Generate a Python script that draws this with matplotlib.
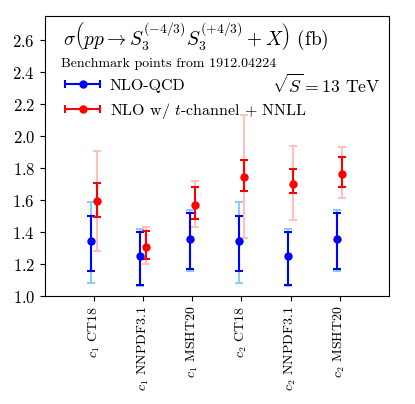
import matplotlib
matplotlib.use("Agg")
import matplotlib.pyplot as plt
import numpy as np
from matplotlib.container import ErrorbarContainer
from matplotlib.legend_handler import HandlerErrorbar

plt.rcParams['font.family'] = 'serif'
plt.rcParams['font.serif'] = ['cmr10']
plt.rcParams['mathtext.fontset'] = 'cm'
plt.rcParams['axes.formatter.use_mathtext'] = True

labels = [r"$c_1$ CT18", r"$c_1$ NNPDF3.1", r"$c_1$ MSHT20",
          r"$c_2$ CT18", r"$c_2$ NNPDF3.1", r"$c_2$ MSHT20"]

# NLO-QCD: central, scale band (dark), full band (light)
qcd_c = [1.345, 1.251, 1.36, 1.345, 1.251, 1.36]
qcd_hi = [1.502, 1.40, 1.52, 1.502, 1.40, 1.52]
qcd_lo = [1.159, 1.07, 1.17, 1.159, 1.07, 1.17]
qcd_hi2 = [1.586, 1.417, 1.538, 1.586, 1.417, 1.538]
qcd_lo2 = [1.082, 1.063, 1.157, 1.082, 1.063, 1.157]

# NLO w/ t-channel + NNLL
nnll_c = [1.594, 1.31, 1.571, 1.745, 1.703, 1.765]
nnll_hi = [1.705, 1.41, 1.682, 1.853, 1.793, 1.87]
nnll_lo = [1.496, 1.235, 1.479, 1.659, 1.644, 1.684]
nnll_hi2 = [1.91, 1.435, 1.72, 2.134, 1.941, 1.935]
nnll_lo2 = [1.28, 1.20, 1.433, 1.366, 1.477, 1.611]

x = np.arange(len(labels))
off = 0.055

fig = plt.figure(figsize=(4.15, 4.04), dpi=100)
ax = fig.add_axes([0.108, 0.267, 0.829, 0.693])

def band(c, lo, hi):
    c = np.array(c)
    return [c - np.array(lo), np.array(hi) - c]

kw = dict(elinewidth=1.5, capsize=3, capthick=1.5)
ax.errorbar(x - off, qcd_c, yerr=band(qcd_c, qcd_lo2, qcd_hi2), fmt='none',
            ecolor='lightskyblue', **kw)
ax.errorbar(x + off, nnll_c, yerr=band(nnll_c, nnll_lo2, nnll_hi2), fmt='none',
            ecolor='#ffc0c0', **kw)
ax.errorbar(x - off, qcd_c, yerr=band(qcd_c, qcd_lo, qcd_hi), fmt='o',
            color='blue', ms=5, **kw)
ax.errorbar(x + off, nnll_c, yerr=band(nnll_c, nnll_lo, nnll_hi), fmt='o',
            color='red', ms=5, **kw)

# legend proxies drawn with horizontal error bars
h1 = ax.errorbar([np.nan], [np.nan], xerr=[1], fmt='o', color='blue', ms=5,
                 label='NLO-QCD', **kw)
h2 = ax.errorbar([np.nan], [np.nan], xerr=[1], fmt='o', color='red', ms=5,
                 label=r'NLO w/ $t$-channel + NNLL', **kw)

ax.set_xlim(-1, 6)
ax.set_ylim(1.0, 2.75)
ax.set_yticks(np.arange(1.0, 2.61, 0.2))
ax.set_xticks(x)
ax.set_xticklabels(labels, rotation=90, fontsize=10)
ax.tick_params(axis='y', labelsize=12)

ax.text(0.052, 0.926, r"$\sigma\left(pp \to S_3^{(-4/3)}S_3^{(+4/3)} + X\right)$ (fb)",
        transform=ax.transAxes, fontsize=14, va='center', ha='left')
ax.text(0.977, 0.755, r"$\sqrt{S} = 13$ TeV", transform=ax.transAxes,
        fontsize=12.7, va='center', ha='right')
ax.text(0.048, 0.828, 'Benchmark points from 1912.04224', transform=ax.transAxes,
        fontsize=10, va='center', ha='left')
ax.legend(handles=[h1, h2], loc='upper left', bbox_to_anchor=(0.017, 0.828),
          frameon=False, fontsize=11.5, handlelength=2.2, handletextpad=0.6,
          labelspacing=0.5,
          handler_map={ErrorbarContainer: HandlerErrorbar(xerr_size=1.08)})

fig.savefig("out.png", dpi=100)
